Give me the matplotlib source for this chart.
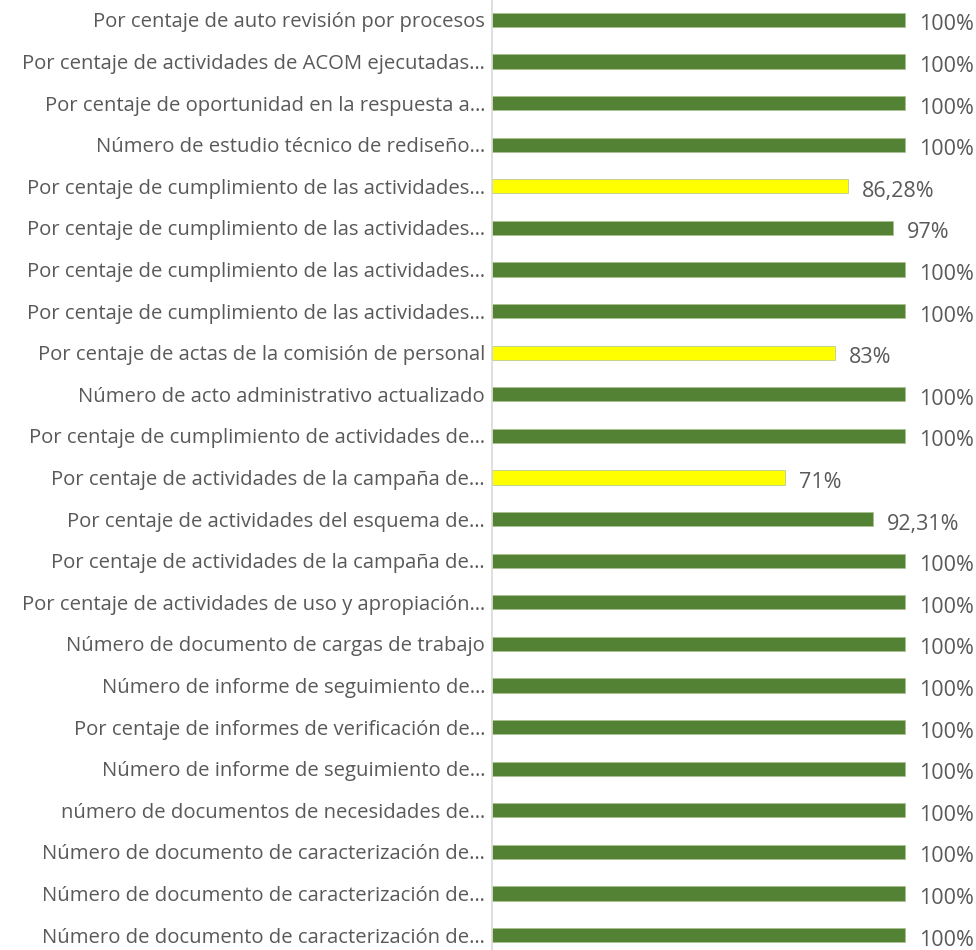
import matplotlib
matplotlib.use("Agg")
import matplotlib.pyplot as plt

# indicadores, de arriba hacia abajo
labels = [
    "Por centaje de auto revisión por procesos",
    "Por centaje de actividades de ACOM ejecutadas…",
    "Por centaje de oportunidad en la respuesta a…",
    "Número de estudio técnico de rediseño…",
    "Por centaje de cumplimiento de las actividades…",
    "Por centaje de cumplimiento de las actividades…",
    "Por centaje de cumplimiento de las actividades…",
    "Por centaje de cumplimiento de las actividades…",
    "Por centaje de actas de la comisión de personal",
    "Número de acto administrativo actualizado",
    "Por centaje de cumplimiento de actividades de…",
    "Por centaje de actividades de la campaña de…",
    "Por centaje de actividades del esquema de…",
    "Por centaje de actividades de la campaña de…",
    "Por centaje de actividades de uso y apropiación…",
    "Número de documento de cargas de trabajo",
    "Número de informe de seguimiento de…",
    "Por centaje de informes de verificación de…",
    "Número de informe de seguimiento de…",
    "número de documentos de necesidades de…",
    "Número de documento de caracterización de…",
    "Número de documento de caracterización de…",
    "Número de documento de caracterización de…",
]
values = [100, 100, 100, 100, 86.28, 97, 100, 100, 83, 100, 100, 71, 92.31,
          100, 100, 100, 100, 100, 100, 100, 100, 100, 100]
value_text = ["100%", "100%", "100%", "100%", "86,28%", "97%", "100%", "100%",
              "83%", "100%", "100%", "71%", "92,31%", "100%", "100%", "100%",
              "100%", "100%", "100%", "100%", "100%", "100%", "100%"]

green = "#548235"
yellow = "#FFFF00"
txt = "#595959"

plt.rcParams['font.family'] = ['Open Sans', 'DejaVu Sans']

fig = plt.figure(figsize=(9.76, 9.5), dpi=100)
ax = fig.add_axes([492 / 976, 0, 1 - 492 / 976, 1])

colors = [yellow if v < 90 else green for v in values]
y = list(range(len(values)))
ax.barh(y, values, height=0.34, color=colors, edgecolor="#a9c08f", linewidth=0.5)

for i, (v, t) in enumerate(zip(values, value_text)):
    ax.text(v + 3.4, i + 0.12, t, ha="left", va="center", fontsize=15.5, color=txt)

ax.set_xlim(0, 117.2)
ax.set_ylim(22.36, -0.48)
ax.set_yticks(y)
ax.set_yticklabels(labels, fontsize=14.6, color=txt)
ax.tick_params(axis="y", length=0, pad=5)
ax.set_xticks([])
for s in ["top", "right", "bottom"]:
    ax.spines[s].set_visible(False)
ax.spines["left"].set_color("#d9d9d9")
ax.spines["left"].set_linewidth(1.2)

fig.savefig("out.png", dpi=100)
